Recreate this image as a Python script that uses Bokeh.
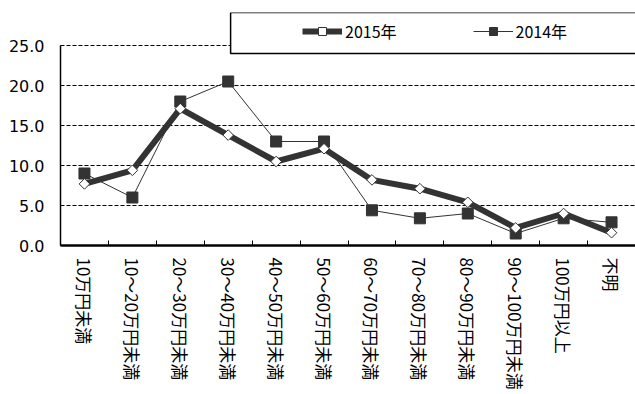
import math
from bokeh.plotting import figure
from bokeh.models import (Range1d, FixedTicker, NumeralTickFormatter, Legend, LegendItem,
                          BoxAnnotation)
from bokeh.embed import file_html
from bokeh.resources import INLINE

categories = ["10万円未満", "10～20万円未満", "20～30万円未満", "30～40万円未満",
              "40～50万円未満", "50～60万円未満", "60～70万円未満", "70～80万円未満",
              "80～90万円未満", "90～100万円未満", "100万円以上", "不明"]
values_2015 = [7.7, 9.4, 17.1, 13.8, 10.5, 12.1, 8.2, 7.1, 5.4, 2.2, 4.0, 1.6]
values_2014 = [9.0, 6.0, 18.0, 20.5, 13.0, 13.0, 4.4, 3.4, 4.0, 1.5, 3.4, 2.9]
y_ticks = [0, 5, 10, 15, 20, 25]

xs = list(range(len(categories)))

p = figure(width=635, height=394, output_backend="svg", toolbar_location=None,
           x_range=Range1d(-0.5, len(categories) - 0.5), y_range=Range1d(0, 29.125),
           min_border_left=60, min_border_right=0, min_border_top=12, min_border_bottom=149)
p.outline_line_color = None
p.background_fill_color = "white"

# axes
p.xaxis.ticker = FixedTicker(ticks=xs, minor_ticks=[i - 0.5 for i in range(len(categories) + 1)])
p.xaxis.major_label_overrides = {i: c for i, c in enumerate(categories)}
p.xaxis.major_label_orientation = -math.pi / 2
p.xaxis.major_tick_line_color = None
p.xaxis.minor_tick_line_color = "black"
p.xaxis.minor_tick_in = 5
p.xaxis.minor_tick_out = 0
p.xaxis.axis_line_width = 2.5
p.xaxis.axis_line_color = "black"
p.xaxis.major_label_text_font = "Noto Sans CJK JP"
p.xaxis.major_label_text_font_size = "17px"
p.xaxis.major_label_text_color = "black"
p.xaxis.major_label_standoff = 6

p.yaxis.ticker = FixedTicker(ticks=y_ticks)
p.yaxis.formatter = NumeralTickFormatter(format="0.0")
p.yaxis.bounds = (0, 25)
p.yaxis.axis_line_width = 1.5
p.yaxis.axis_line_color = "black"
p.yaxis.major_tick_in = 3
p.yaxis.major_tick_out = 0
p.yaxis.major_tick_line_color = "black"
p.yaxis.minor_tick_line_color = None
p.yaxis.major_label_text_font = "DejaVu Sans"
p.yaxis.major_label_text_font_size = "16px"
p.yaxis.major_label_text_color = "black"
p.yaxis.major_label_standoff = 16

p.xgrid.visible = False
p.ygrid.ticker = FixedTicker(ticks=y_ticks)
p.ygrid.grid_line_color = "black"
p.ygrid.grid_line_dash = "4 2"
p.ygrid.grid_line_width = 1

col = "#333333"
l14 = p.line(xs, values_2014, line_color=col, line_width=1)
m14 = p.scatter(xs, values_2014, marker="square", size=11, fill_color=col, line_color=col)
l15 = p.line(xs, values_2015, line_color=col, line_width=6)
m15 = p.scatter(xs, values_2015, marker="square", angle=math.pi / 4, size=7.5,
                fill_color="white", line_color=col, line_width=1)

box = BoxAnnotation(left=3.05, right=11.7, bottom=24.0, top=29.125,
                    fill_color="white", fill_alpha=1, line_color="black", line_alpha=1,
                    line_width=1.5)
p.add_layout(box)

legend = Legend(items=[LegendItem(label="2015年", renderers=[l15, m15]),
                       LegendItem(label="2014年", renderers=[l14, m14])],
                orientation="horizontal", location=(242, 202), padding=0, margin=0,
                spacing=76, label_standoff=3, glyph_width=40, glyph_height=20,
                border_line_color=None, background_fill_alpha=0,
                label_text_font="Noto Sans CJK JP", label_text_font_size="16px",
                label_text_color="black")
p.add_layout(legend, "center")

open("out.html", "w").write(file_html(p, INLINE))
